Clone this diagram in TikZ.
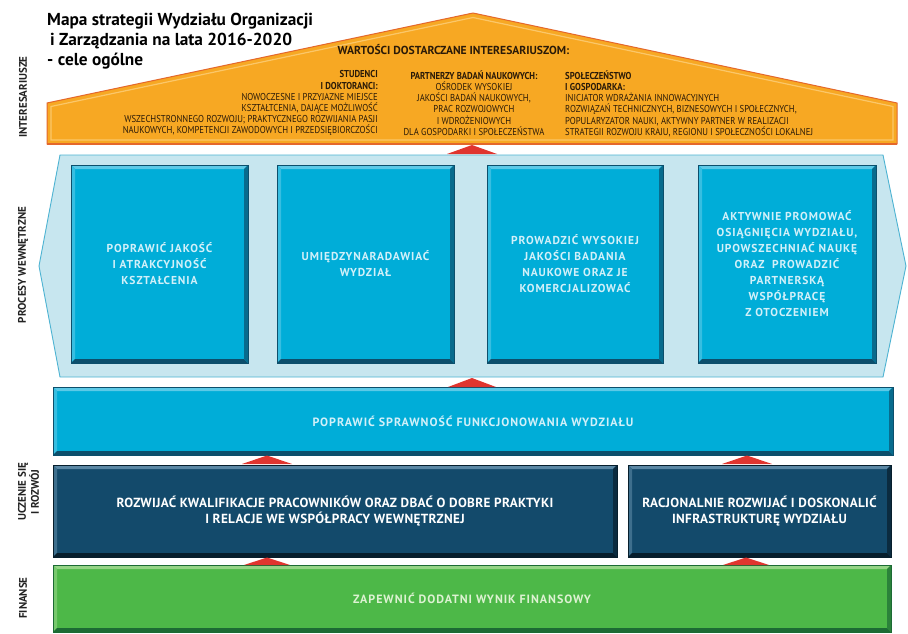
\documentclass[tikz,border=0pt]{standalone}
\usepackage{fontspec}
\setmainfont{PT Sans}
\newfontfamily\condfont[FakeStretch=0.87]{PT Sans}
\newfontfamily\spacedfont[LetterSpace=8]{PT Sans}
\newfontfamily\lightspaced[LetterSpace=2.5]{PT Sans}
\usetikzlibrary{calc}

\definecolor{roofFill}{HTML}{F7A823}
\definecolor{roofEdge}{HTML}{E4672B}
\definecolor{roofHi}{HTML}{FBC769}
\definecolor{roofInk}{HTML}{2A1A08}
\definecolor{bandFill}{HTML}{C7E6EF}
\definecolor{bandEdge}{HTML}{4DB3D2}
\definecolor{cyanBase}{HTML}{00ADD8}
\definecolor{cyanLight}{HTML}{5CC9E7}
\definecolor{cyanDark}{HTML}{0C4F6C}
\definecolor{cyanText}{HTML}{D2F0F9}
\definecolor{navyBase}{HTML}{134A6B}
\definecolor{navyLight}{HTML}{5B87A4}
\definecolor{navyDark}{HTML}{071E2C}
\definecolor{greenBase}{HTML}{4DB848}
\definecolor{greenLight}{HTML}{95D486}
\definecolor{greenDark}{HTML}{1C6B34}
\definecolor{greenText}{HTML}{DDF2D2}
\definecolor{arrowRed}{HTML}{E0352F}
\definecolor{labelInk}{HTML}{222222}

\def\bevw{4pt}

\tikzset{
  bevel/.style n args={3}{
    fill=#1, draw=#3, line width=0.6pt, inner sep=0pt, outer sep=0pt,
    path picture={
      \path (path picture bounding box.north west) coordinate (pNW)
            (path picture bounding box.north east) coordinate (pNE)
            (path picture bounding box.south west) coordinate (pSW)
            (path picture bounding box.south east) coordinate (pSE);
      \fill[#2] (pNW) -- (pNE) -- ($(pNE)+(-\bevw,-\bevw)$) -- ($(pNW)+(\bevw,-\bevw)$) -- cycle;
      \fill[#2!60!#1] (pNW) -- ($(pNW)+(\bevw,-\bevw)$) -- ($(pSW)+(\bevw,\bevw)$) -- (pSW) -- cycle;
      \fill[#3] (pSW) -- (pSE) -- ($(pSE)+(-\bevw,\bevw)$) -- ($(pSW)+(\bevw,\bevw)$) -- cycle;
      \fill[#3!70!#1] (pNE) -- (pSE) -- ($(pSE)+(-\bevw,\bevw)$) -- ($(pNE)+(-\bevw,-\bevw)$) -- cycle;
    }
  },
  cyanbox/.style={bevel={cyanBase}{cyanLight}{cyanDark}, text=cyanText, align=center,
    font=\spacedfont\bfseries\fontsize{11.5}{16}\selectfont},
  navybox/.style={bevel={navyBase}{navyLight}{navyDark}, text=white, align=center,
    font=\lightspaced\bfseries\fontsize{13.2}{15.5}\selectfont},
  greenbox/.style={bevel={greenBase}{greenLight}{greenDark}, text=greenText, align=center,
    font=\spacedfont\bfseries\fontsize{12}{14}\selectfont},
  roof/.style={fill=roofFill, draw=roofEdge, line width=1pt, line join=round},
  band/.style={fill=bandFill, draw=bandEdge, line width=0.9pt},
  uptri/.style={fill=arrowRed},
  sidelabel/.style={rotate=90, text=labelInk, align=center,
    font=\bfseries\fontsize{11}{13}\selectfont},
  roofcol/.style={text=roofInk, inner sep=0pt, font=\condfont\fontsize{10}{11.2}\selectfont},
}

\begin{document}
\begin{tikzpicture}[x=1pt, y=-1pt]
\useasboundingbox (0,0) rectangle (908,634);
\fill[white] (0,0) rectangle (908,634);

% roof: values delivered to stakeholders
\draw[roof] (47,103) -- (473,13) -- (897,103) -- (897,144) -- (47,144) -- cycle;
\draw[roofHi, line width=1.2pt] (51,106.5) -- (473,17.5) -- (893,106.5) -- (893,140) -- (51,140) -- cycle;
\draw[roofEdge, line width=2pt] (47,144) -- (897,144);

\node[anchor=north west, align=left, inner sep=0pt, text=black,
      font=\bfseries\fontsize{17.3}{20}\selectfont] (title) at (47,13)
  {Mapa strategii Wydziału Organizacji\\\hspace*{3pt}i Zarządzania na lata 2016-2020\\- cele ogólne};

\node[text=roofInk, font=\bfseries\fontsize{11.6}{12}\selectfont] (values) at (453.5,50)
  {WARTOŚCI DOSTARCZANE INTERESARIUSZOM:};

\node[roofcol, anchor=north east, align=right] (students) at (378,70.5)
  {{\bfseries STUDENCI}\\{\bfseries I DOKTORANCI:}\\
   NOWOCZESNE I PRZYJAZNE MIEJSCE\\
   KSZTAŁTCENIA, DAJĄCE MOŻLIWOŚĆ\\
   WSZECHSTRONNEGO ROZWOJU; PRAKTYCZNEGO ROZWIJANIA PASJI\\
   NAUKOWYCH, KOMPETENCJI ZAWODOWYCH I PRZEDSIĘBIORCZOŚCI};
\node[roofcol, anchor=north, align=center] (partners) at (474,70.5)
  {{\bfseries PARTNERZY BADAŃ NAUKOWYCH:}\\
   OŚRODEK WYSOKIEJ\\
   JAKOŚCI BADAŃ NAUKOWYCH,\\
   PRAC ROZWOJOWYCH\\
   I WDROŻENIOWYCH\\
   DLA GOSPODARKI I SPOŁECZEŃSTWA};
\node[roofcol, anchor=north west, align=left] (society) at (565,70.5)
  {{\bfseries SPOŁECZEŃSTWO}\\{\bfseries I GOSPODARKA:}\\
   INICJATOR WDRAŻANIA INNOWACYJNYCH\\
   ROZWIĄZAŃ TECHNICZNYCH, BIZNESOWYCH I SPOŁECZNYCH,\\
   POPULARYZATOR NAUKI, AKTYWNY PARTNER W REALIZACJI\\
   STRATEGII ROZWOJU KRAJU, REGIONU I SPOŁECZNOŚCI LOKALNEJ};

% internal processes band
\draw[band] (60,155) -- (883,155) -- (906,266) -- (883,377) -- (60,377) -- (39,266) -- cycle;

\node[cyanbox, minimum width=177pt, minimum height=198pt] (q1) at (159.5,264)
  {POPRAWIĆ JAKOŚĆ\\I ATRAKCYJNOŚĆ\\KSZTAŁCENIA};
\node[cyanbox, minimum width=177pt, minimum height=198pt] (q2) at (365.5,264)
  {UMIĘDZYNARADAWIAĆ\\WYDZIAŁ};
\node[cyanbox, minimum width=176pt, minimum height=198pt] (q3) at (575,264)
  {PROWADZIĆ WYSOKIEJ\\JAKOŚCI BADANIA\\NAUKOWE ORAZ JE\\KOMERCJALIZOWAĆ};
\node[cyanbox, minimum width=178pt, minimum height=198pt] (q4) at (787,264)
  {AKTYWNIE PROMOWAĆ\\OSIĄGNIĘCIA WYDZIAŁU,\\UPOWSZECHNIAĆ NAUKĘ\\ORAZ~ PROWADZIĆ\\PARTNERSKĄ\\WSPÓŁPRACĘ\\Z OTOCZENIEM};

% efficiency bar
\node[cyanbox, font=\spacedfont\bfseries\fontsize{12}{14}\selectfont,
      minimum width=840pt, minimum height=68pt] (bar) at (473,421)
  {POPRAWIĆ SPRAWNOŚĆ FUNKCJONOWANIA WYDZIAŁU};

% learning and development
\node[navybox, minimum width=564pt, minimum height=92pt] (dev1) at (335,511)
  {ROZWIJAĆ KWALIFIKACJE PRACOWNIKÓW ORAZ DBAĆ O DOBRE PRAKTYKI\\I RELACJE WE WSPÓŁPRACY WEWNĘTRZNEJ};
\node[navybox, minimum width=263pt, minimum height=92pt] (dev2) at (759.5,511)
  {RACJONALNIE ROZWIJAĆ I DOSKONALIĆ\\INFRASTRUKTURĘ WYDZIAŁU};

% finance
\node[greenbox, minimum width=838pt, minimum height=67pt] (fin) at (472,598.5)
  {ZAPEWNIĆ DODATNI WYNIK FINANSOWY};

% upward arrows between levels
\fill[uptri] (447,154) -- (472,145) -- (497,154) -- cycle;
\fill[uptri] (448,387) -- (472,378) -- (496,387) -- cycle;
\fill[uptri] (242,464) -- (267,455.5) -- (292,464) -- cycle;
\fill[uptri] (722,464) -- (747,455.5) -- (772,464) -- cycle;
\fill[uptri] (244,565) -- (267,557.5) -- (290,565) -- cycle;
\fill[uptri] (723,565) -- (746,557.5) -- (769,565) -- cycle;

% perspective labels
\node[sidelabel] (lbl1) at (23,97) {INTERESARIUSZE};
\node[sidelabel] (lbl2) at (23,265) {PROCESY WEWNĘTRZNE};
\node[sidelabel] (lbl3) at (28.5,492) {UCZENIE SIĘ\\I ROZWÓJ};
\node[sidelabel] (lbl4) at (23,598) {FINANSE};
\end{tikzpicture}
\end{document}
